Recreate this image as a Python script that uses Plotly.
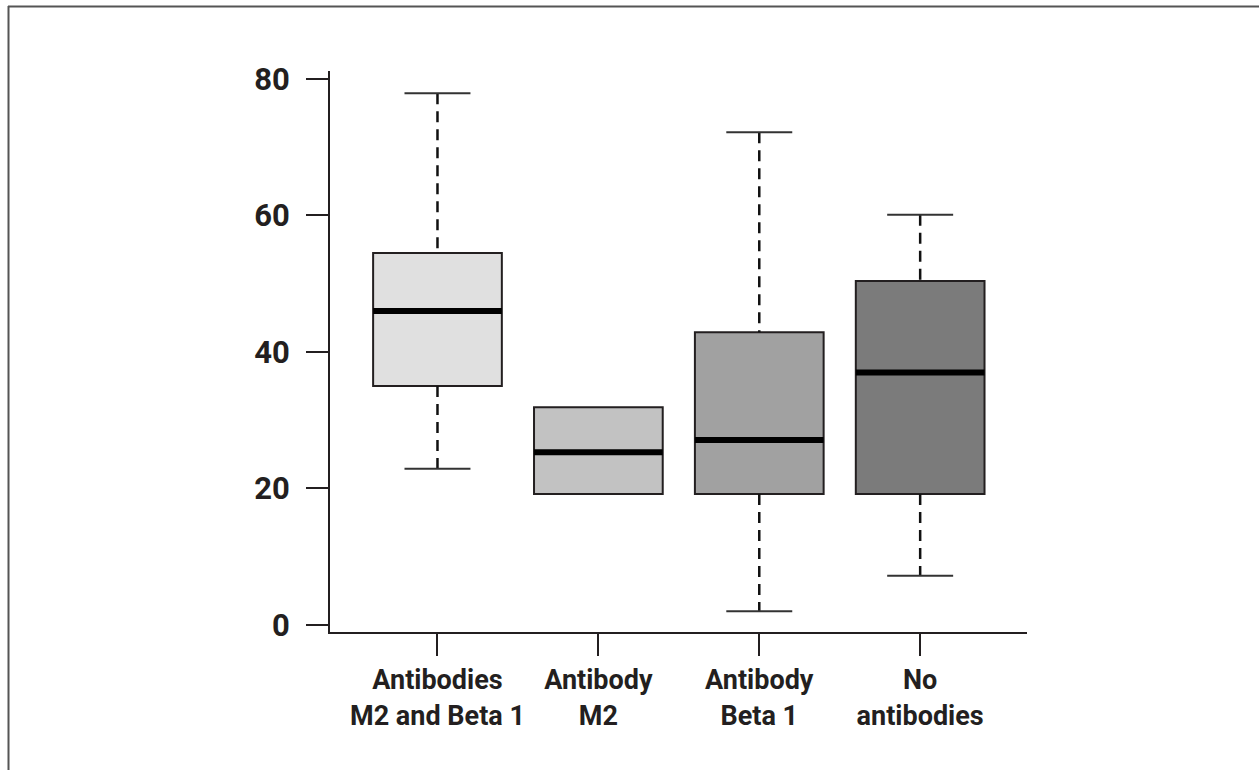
import plotly.graph_objects as go

categories = ["Antibodies<br>M2 and Beta 1", "Antibody<br>M2", "Antibody<br>Beta 1", "No<br>antibodies"]
q1_vals = [35.0, 19.2, 19.2, 19.2]
median_vals = [46.0, 25.3, 27.1, 37.0]
q3_vals = [54.5, 31.9, 42.9, 50.4]
lower_vals = [22.9, 19.2, 2.0, 7.2]
upper_vals = [77.9, 31.9, 72.2, 60.1]
fill_colors = ["#e0e0e0", "#c2c2c2", "#a1a1a1", "#7b7b7b"]
y_ticks = [0, 20, 40, 60, 80]

BOX_W = 0.8
CAP_HALF = 0.205
INK = "#231f20"
FONT = "Roboto, Liberation Sans, sans-serif"

fig = go.Figure()

# whiskers (dashed) and caps
for i in range(len(categories)):
    xs, ys = [], []
    if upper_vals[i] > q3_vals[i]:
        xs += [i, i, None]
        ys += [upper_vals[i], q3_vals[i], None]
    if lower_vals[i] < q1_vals[i]:
        xs += [i, i, None]
        ys += [q1_vals[i], lower_vals[i], None]
    if xs:
        fig.add_trace(go.Scatter(x=xs, y=ys, mode="lines",
                                 line=dict(color="#111111", width=2.5, dash="11px,7px"),
                                 hoverinfo="skip", showlegend=False))
    cx, cy = [], []
    if upper_vals[i] > q3_vals[i]:
        cx += [i - CAP_HALF, i + CAP_HALF, None]
        cy += [upper_vals[i], upper_vals[i], None]
    if lower_vals[i] < q1_vals[i]:
        cx += [i - CAP_HALF, i + CAP_HALF, None]
        cy += [lower_vals[i], lower_vals[i], None]
    if cx:
        fig.add_trace(go.Scatter(x=cx, y=cy, mode="lines",
                                 line=dict(color="#333333", width=2),
                                 hoverinfo="skip", showlegend=False))

# boxes
for i in range(len(categories)):
    fig.add_trace(go.Box(
        x=[i], q1=[q1_vals[i]], median=[median_vals[i]], q3=[q3_vals[i]],
        lowerfence=[q1_vals[i]], upperfence=[q3_vals[i]],
        width=BOX_W, fillcolor=fill_colors[i],
        line=dict(color=INK, width=2), whiskerwidth=0,
        boxpoints=False, showlegend=False, hoverinfo="skip"))

# thick medians
for i in range(len(categories)):
    fig.add_trace(go.Scatter(
        x=[i - BOX_W / 2, i + BOX_W / 2], y=[median_vals[i], median_vals[i]],
        mode="lines", line=dict(color="#000000", width=6),
        hoverinfo="skip", showlegend=False))

# page frame (left and top border)
PX_L, PX_R, PX_T, PX_B = 330, 1027, 71, 632
pw, ph = PX_R - PX_L, PX_B - PX_T
def px2x(px):
    return (px - PX_L) / pw
def py2y(py):
    return (PX_B - py) / ph
fig.add_shape(type="line", xref="paper", yref="paper",
              x0=px2x(8.5), x1=px2x(8.5), y0=py2y(6), y1=py2y(775),
              line=dict(color="#555555", width=2))
fig.add_shape(type="line", xref="paper", yref="paper",
              x0=px2x(8), x1=px2x(1265), y0=py2y(6.5), y1=py2y(6.5),
              line=dict(color="#555555", width=2))

fig.update_layout(
    width=1259, height=770,
    margin=dict(l=PX_L, r=1259 - PX_R, t=PX_T, b=770 - PX_B, pad=0, autoexpand=False),
    paper_bgcolor="white", plot_bgcolor="white",
    boxmode="overlay", showlegend=False,
    font=dict(family=FONT, color=INK),
)
fig.update_xaxes(
    range=[-0.668, 3.664], tickmode="array", tickvals=list(range(len(categories))),
    ticktext=categories, ticks="outside", ticklen=22, tickwidth=2, tickcolor=INK,
    showline=True, linewidth=2, linecolor=INK, showgrid=False, zeroline=False,
    tickfont=dict(family=FONT, size=27, color=INK, weight="bold"),
    tickangle=0, automargin=False, ticklabelstandoff=1,
)
fig.update_yaxes(
    range=[-1.03, 81.17], tickmode="array", tickvals=y_ticks,
    ticks="outside", ticklen=22, tickwidth=2, tickcolor=INK,
    showline=True, linewidth=2, linecolor=INK, showgrid=False, zeroline=False,
    tickfont=dict(family=FONT, size=31, color=INK, weight="bold"),
    automargin=False, ticklabelstandoff=10,
)

fig.write_html("out.html")
